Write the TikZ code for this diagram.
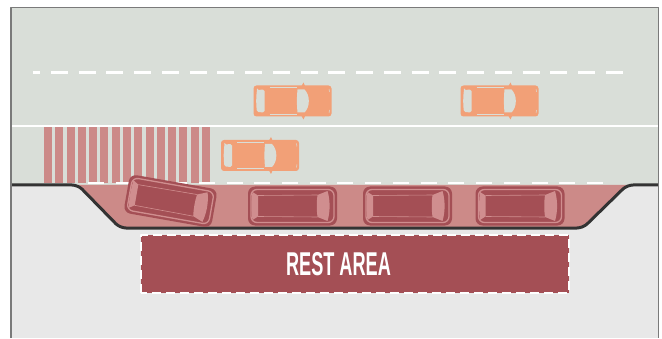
\documentclass[tikz,border=0pt]{standalone}
\usepackage{fontspec}
\newfontfamily\signfont{Liberation Sans}
\definecolor{road}{HTML}{D9DED8}
\definecolor{ground}{HTML}{E8E8E8}
\definecolor{bay}{HTML}{CC8A88}
\definecolor{wine}{HTML}{A44F55}
\definecolor{trim}{HTML}{D08E8F}
\definecolor{sedan}{HTML}{F2A077}
\definecolor{curb}{HTML}{333333}
\definecolor{frame}{HTML}{7A7A7A}
\begin{document}
\begin{tikzpicture}[x=1pt, y=1pt, line join=round,
    lane/.style={white, line width=3, dash pattern=on 17 off 10.75, dash phase=10},
    bayline/.style={white, line width=2, dash pattern=on 16 off 11.72},
    signbox/.style={white, line width=1.3, dash pattern=on 9 off 5}]
            \useasboundingbox (0,0) rectangle (662,338);
            \def\xl{11}\def\xr{658.5}\def\ytop{330.5}\def\yedge{153}\def\ybay{110}
            \fill[ground] (\xl,0) rectangle (\xr,\yedge);
            \fill[road] (\xl,\yedge) rectangle (\xr,\ytop);
            \fill[bay] (78,\yedge) -- (120,\ybay) -- (583,\ybay) -- (627,\yedge) -- cycle;
            \foreach \i in {0,...,14}\fill[bay] ({44+11.29*\i},154.5) rectangle ++(8,57);
            \draw[lane] (33,265)--(623,265);
            \draw[white, line width=2.5] (\xl,212)--(\xr,212);
            \draw[bayline] (88,154.5)--(604,154.5);
            \draw[curb, line width=3, rounded corners=6] (\xl,\yedge)--(78,\yedge)--(120,\ybay)--(583,\ybay)--(627,\yedge)--(\xr,\yedge);
            \foreach \cx/\cy in {292.5/237, 499.5/237, 260/182.5}{
                \begin{scope}[shift={(\cx,\cy)}]
                    \fill[sedan, rounded corners=3] (-39,-15.5) rectangle (39,15.5);
                    \fill[sedan] (9,15)--(11,18.5)--(12.5,15)--cycle;
                    \fill[sedan] (9,-15)--(11,-18.5)--(12.5,-15)--cycle;
                    \fill[road, rounded corners=1.5] (-35.5,11)--(-28,11.5)--(-28,-11.5)--(-35.5,-11) .. controls (-36.5,-4) and (-36.5,4) .. cycle;
                    \fill[road] (5,11.5)--(12,11.5) .. controls (17.8,6) and (17.8,-6) .. (12,-11.5)--(5,-11.5) .. controls (4.2,-4) and (4.2,4) .. cycle;
                    \draw[road, line width=0.7] (-23,13.3)--(4,13.3) (-23,-13.3)--(4,-13.3);
                    \draw[road, line width=0.5] (36.5,12)--(37,9) (36.5,-12)--(37,-9);
                \end{scope}}
            \foreach \cx/\cy/\ang in {170.5/137/-10, 292.5/132/0, 407.5/132/0, 520/132/0}{
                \begin{scope}[shift={(\cx,\cy)}, rotate=\ang]
                    \fill[wine, rounded corners=7] (-44.5,-19.5) rectangle (44.5,19.5);
                    \draw[trim, line width=1.3, rounded corners=6] (-41.5,-16.5) rectangle (41.5,16.5);
                    \fill[trim] (-40,14)--(-34.5,10.5)--(-34.5,-10.5)--(-40,-14) .. controls (-41.2,-5) and (-41.2,5) .. cycle;
                    \fill[trim] (25,11)--(35,15) .. controls (37.8,6) and (37.8,-6) .. (35,-15)--(25,-11) .. controls (24,-4) and (24,4) .. cycle;
                    \draw[trim, line width=0.6] (-34.5,10.5)--(25,11) (-34.5,-10.5)--(25,-11);
                \end{scope}}
            \fill[wine] (141,45) rectangle (569,103);
            \draw[signbox] (141,45) rectangle (569,103);
            \node[white, font=\signfont\bfseries\fontsize{33}{33}\selectfont, inner sep=0] (rest) at (338.5,73.5) {\scalebox{0.55}[1]{REST AREA}};
            \draw[frame, line width=1.6] (\xl,0)--(\xl,\ytop)--(\xr,\ytop)--(\xr,0);
    \end{tikzpicture}
\end{document}
